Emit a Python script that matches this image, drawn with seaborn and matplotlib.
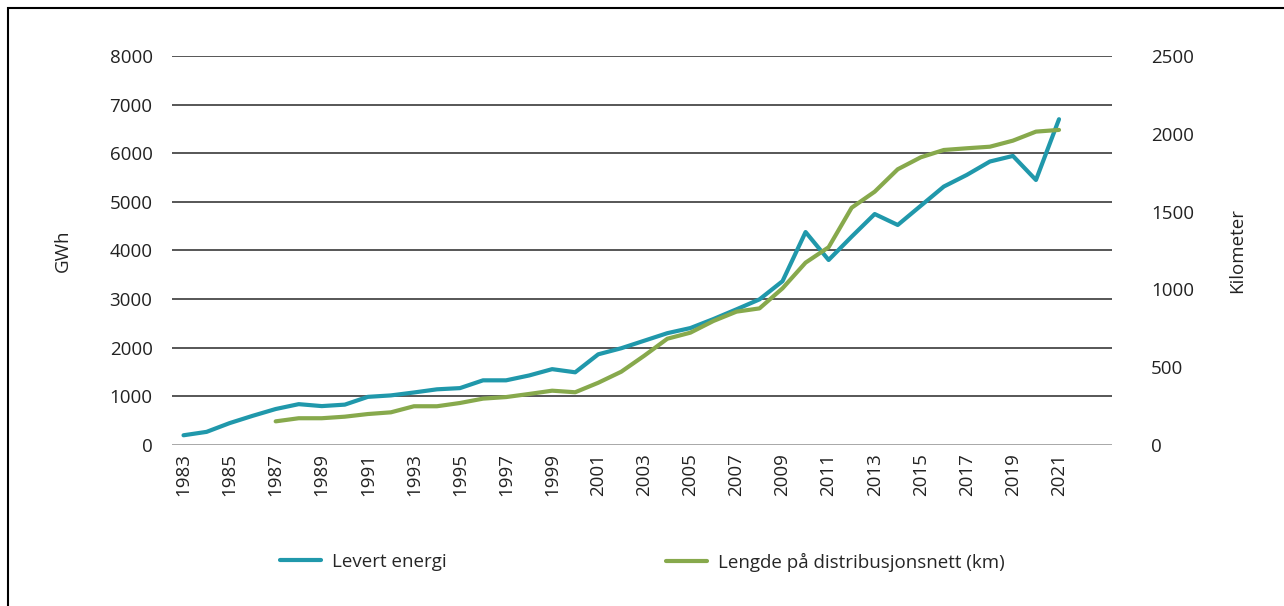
import numpy as np
import pandas as pd
import matplotlib
matplotlib.use("Agg")
import matplotlib.pyplot as plt
import seaborn as sns
from matplotlib.lines import Line2D
from matplotlib.patches import Rectangle

# Data
years_energy = list(range(1983, 2022))
levert_energi = [200, 270, 450, 600, 740, 840, 800, 830, 990, 1020,
                 1080, 1145, 1170, 1330, 1330, 1430, 1560, 1495, 1865, 1990,
                 2145, 2300, 2405, 2590, 2790, 2995, 3370, 4380, 3805, 4285,
                 4750, 4525, 4920, 5315, 5555, 5830, 5945, 5450, 6700]

years_grid = list(range(1987, 2022))
lengde_nett = [152, 172, 172, 182, 199, 210, 249, 249, 270, 298,
               308, 328, 349, 339, 400, 471, 574, 683, 722, 797,
               857, 878, 1007, 1172, 1271, 1525, 1628, 1772, 1849, 1896,
               1907, 1917, 1956, 2014, 2025]

xtick_years = list(range(1983, 2022, 2))
left_ticks = [0, 1000, 2000, 3000, 4000, 5000, 6000, 7000, 8000]
right_ticks = [0, 500, 1000, 1500, 2000, 2500]

BLUE = "#2098ab"
GREEN = "#87a94c"
TXT = "#222222"
FS = 13.5

sns.set_theme(style="white")
plt.rcParams["font.family"] = ["Open Sans", "DejaVu Sans"]

energy_df = pd.DataFrame({"year": years_energy, "gwh": levert_energi})
grid_df = pd.DataFrame({"year": years_grid, "km": lengde_nett})

fig = plt.figure(figsize=(12.84, 6.06), dpi=100)
ax = fig.add_axes([172 / 1284, 1 - 445 / 606, (1112 - 172) / 1284, (445 - 56) / 606])
ax2 = ax.twinx()

# horizontal gridlines
for v in left_ticks:
    ax.axhline(v, color="#3a3a3a" if v > 0 else "#9a9a9a", lw=1.2, zorder=0)

sns.lineplot(data=energy_df, x="year", y="gwh", ax=ax, color=BLUE, lw=3, zorder=3)
sns.lineplot(data=grid_df, x="year", y="km", ax=ax2, color=GREEN, lw=3, zorder=3)

ax.set_xlim(1982.5, 2023.3)
ax.set_ylim(0, 8000)
ax2.set_ylim(0, 2500)

ax.set_yticks(left_ticks)
ax.set_yticklabels([str(v) for v in left_ticks], fontsize=FS, color=TXT)
ax2.set_yticks(right_ticks)
ax2.set_yticklabels([str(v) for v in right_ticks], fontsize=FS, color=TXT)
ax.set_xticks(xtick_years)
ax.set_xticklabels([str(y) for y in xtick_years], rotation=90, fontsize=FS, color=TXT)

ax.tick_params(axis="y", length=0, pad=14)
ax2.tick_params(axis="y", length=0, pad=28)
ax.tick_params(axis="x", length=0, pad=6)

ax.set_xlabel("")
ax.set_ylabel("GWh", fontsize=FS, color=TXT, labelpad=27)
ax2.set_ylabel("Kilometer", fontsize=FS, color=TXT, labelpad=25)

for a in (ax, ax2):
    for s in a.spines.values():
        s.set_visible(False)
    a.grid(False)

# legend below
h1 = Line2D([], [], color=BLUE, lw=3)
h2 = Line2D([], [], color=GREEN, lw=3)
fig.legend([h1], ["Levert energi"], loc="center left", bbox_to_anchor=(263 / 1284, 1 - 562 / 606),
           frameon=False, fontsize=FS, handlelength=2.2, handletextpad=0.6)
fig.legend([h2], ["Lengde på distribusjonsnett (km)"], loc="center left",
           bbox_to_anchor=(649 / 1284, 1 - 562 / 606),
           frameon=False, fontsize=FS, handlelength=2.2, handletextpad=0.6)

# outer frame
fig.patches.append(Rectangle((8 / 1284, -0.01), 1.1, 1 - 8 / 606 + 0.01, transform=fig.transFigure,
                             fill=False, edgecolor="black", lw=1.5))

fig.savefig("out.png", dpi=100)
